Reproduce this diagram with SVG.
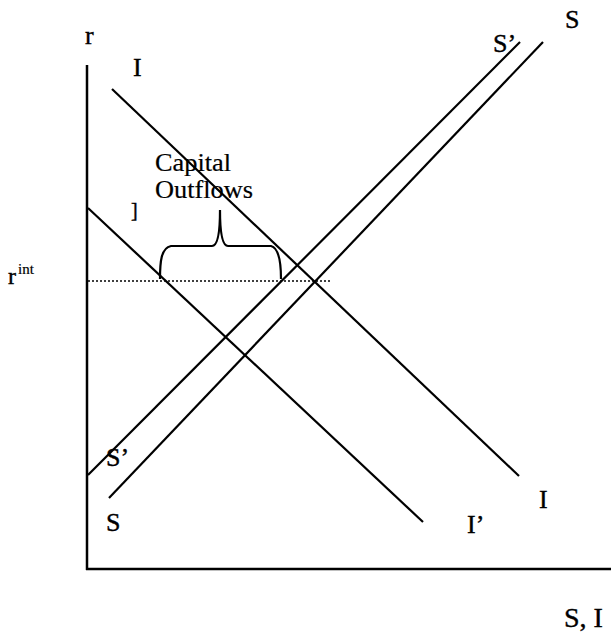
<svg xmlns="http://www.w3.org/2000/svg" width="611" height="634" viewBox="0 0 611 634">
<style>
.ln{stroke:#000;stroke-width:2.2;fill:none}
.ax{stroke:#000;stroke-width:2.5;fill:none}
.t{font-family:"Liberation Serif","Times New Roman",serif;font-size:26px;fill:#000;stroke:#000;stroke-width:0.4}
</style>
<rect width="611" height="634" fill="#fff"/>
<g id="axes">
<line class="ax" x1="87" y1="65" x2="87" y2="570"/>
<line class="ax" x1="86" y1="569" x2="611" y2="569"/>
<text class="t" x="85" y="44">r</text>
<text class="t" x="564" y="627" style="font-size:28px">S, I</text>
<text class="t" x="8" y="284" style="font-size:24px">r</text>
<text class="t" x="18" y="274" style="font-size:15px;stroke-width:0.2">int</text>
</g>
<g id="connectors">
<line id="curve-I" class="ln" x1="112" y1="89" x2="519" y2="476"/>
<line id="curve-I2" class="ln" x1="88" y1="208" x2="423" y2="522"/>
<line id="curve-S" class="ln" x1="109" y1="498" x2="543" y2="42"/>
<line id="curve-S2" class="ln" x1="88" y1="475" x2="520" y2="42"/>
<line id="rint-line" x1="88" y1="281" x2="330" y2="281" stroke="#000" stroke-width="1.5" stroke-dasharray="2,2"/>
<path id="brace" class="ln" d="M160,279 C160,262 161,248 171,246 L212,246 C218,246 220,232 220,210 C220,232 222,246 228,246 L271,246 C279,248 281,262 281,279"/>
</g>
<g id="labels">
<text class="t" x="133" y="76">I</text>
<text class="t" x="565" y="28">S</text>
<text class="t" x="493" y="52">S’</text>
<text class="t" x="155" y="171" textLength="76" lengthAdjust="spacingAndGlyphs" style="font-size:25px;stroke-width:0.2">Capital</text>
<text class="t" x="155" y="198" textLength="98" lengthAdjust="spacingAndGlyphs" style="font-size:25px;stroke-width:0.2">Outflows</text>
<text class="t" x="131" y="217" style="font-size:20px">]</text>
<text class="t" x="106" y="466">S’</text>
<text class="t" x="106" y="531">S</text>
<text class="t" x="467" y="533">I’</text>
<text class="t" x="539" y="508">I</text>
</g>
</svg>
